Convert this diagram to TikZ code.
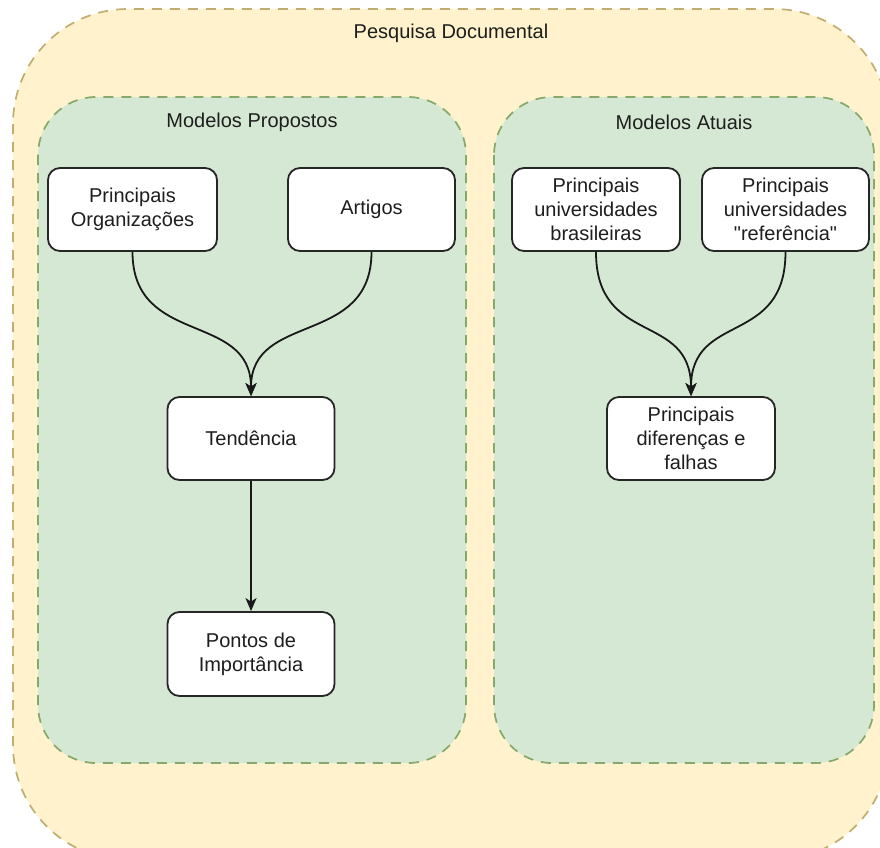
\documentclass[tikz,border=0pt]{standalone}
\usepackage{fontspec}
\setmainfont{Liberation Sans}[Ligatures=TeXOff]
\usetikzlibrary{arrows.meta}
\definecolor{outerfill}{HTML}{FFF2CC}
\definecolor{outerline}{HTML}{C2AD70}
\definecolor{innerfill}{HTML}{D5E8D4}
\definecolor{innerline}{HTML}{86A86A}
\definecolor{txt}{HTML}{1E1E1E}

\begin{document}
\begin{tikzpicture}[x=1pt,y=-1pt,
  font=\fontsize{20}{24}\selectfont, text=txt,
  group/.style={dash pattern=on 10pt off 8pt, line width=1.7pt},
  box/.style={draw=black!85, fill=white, rounded corners=12pt, line width=1.8pt,
    align=center, inner sep=0pt, minimum height=83pt},
  flow/.style={line width=1.8pt, draw=black!90,
    -{Stealth[length=13pt,width=11pt,inset=3.5pt]}},
  caption/.style={inner sep=0pt}]

\useasboundingbox (0,0) rectangle (880,847);

% outer container (runs past the right and bottom edges)
\begin{scope}
  \clip (0,0) rectangle (880,847);
  \draw[group, draw=outerline, fill=outerfill, rounded corners=115pt]
    (13,9) rectangle (889,860);
\end{scope}

% inner containers
\draw[group, draw=innerline, fill=innerfill, rounded corners=58pt]
  (38,97) rectangle (466,763);
\draw[group, draw=innerline, fill=innerfill, rounded corners=58pt]
  (494,97) rectangle (874,763);

% container captions
\node[caption] (title) at (451,33) {Pesquisa Documental};
\node[caption] (propostos) at (252,122) {Modelos Propostos};
\node[caption] (atuais) at (684,122) {Modelos Atuais};

% left flow
\node[box, minimum width=169pt] (org) at (132.5,209.5) {Principais\\Organizações};
\node[box, minimum width=167pt] (art) at (371.5,209.5) {Artigos};
\node[box, minimum width=167pt] (ten) at (251,438.5) {Tendência};
\node[box, minimum width=167pt, minimum height=84pt] (pon) at (251,654) {Pontos de\\Importância};

% right flow
\node[box, minimum width=168pt] (bra) at (596,209.5) {Principais\\universidades\\brasileiras};
\node[box, minimum width=167pt] (ref) at (785.5,209.5) {Principais\\universidades\\"referência"};
\node[box, minimum width=168pt] (dif) at (691,438.5) {Principais\\diferenças e\\falhas};

% connectors
\draw[flow] (org.south) .. controls +(0,95) and +(0,-85) .. (ten.north);
\draw[flow] (art.south) .. controls +(0,95) and +(0,-85) .. (ten.north);
\draw[flow] (ten.south) -- (pon.north);
\draw[flow] (bra.south) .. controls +(0,95) and +(0,-85) .. (dif.north);
\draw[flow] (ref.south) .. controls +(0,95) and +(0,-85) .. (dif.north);
\end{tikzpicture}
\end{document}
